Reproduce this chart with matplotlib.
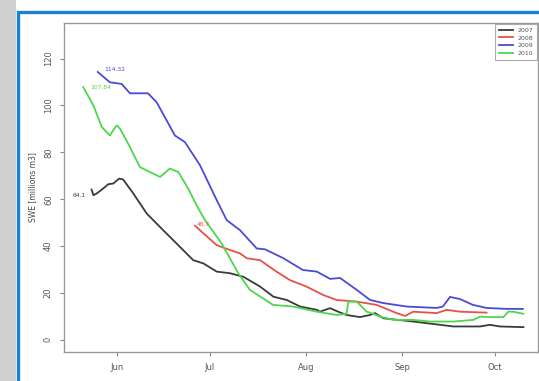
"""SWE recession curves 2007-2010, redrawn from a screenshot of an R plot."""
import matplotlib
matplotlib.use("Agg")
import matplotlib.pyplot as plt
from matplotlib.patches import Rectangle

# days counted from 1 June, values in millions m3
days_2007 = [-8.2, -7.6, -6.6, -4.9, -2.8, -1.2, 0.7, 2.0, 5.3, 9.6, 14.9, 20.3,
             24.6, 27.9, 32.2, 36.5, 40.8, 46.2, 50.5, 54.8, 59.1, 64.5, 65.5,
             68.8, 71.4, 74.1, 78.4, 81.7, 83.3, 86.0, 95.6, 104.3, 108.6,
             117.2, 120.4, 123.6, 131.2]
swe_2007 = [64.1, 61.7, 62.4, 64.1, 66.4, 66.7, 68.8, 68.4, 62.4, 53.9, 46.8, 39.7,
            34.0, 32.6, 29.1, 28.4, 26.9, 22.7, 18.4, 17.0, 14.2, 12.8, 12.0,
            13.5, 12.0, 10.6, 9.7, 10.6, 11.4, 9.2, 7.8, 6.4, 5.7,
            5.7, 6.4, 5.7, 5.4]

days_2008 = [25.2, 27.9, 32.2, 36.5, 39.7, 41.9, 46.2, 51.5, 55.8, 61.2, 66.6,
             70.9, 77.4, 83.8, 90.3, 93.0, 95.6, 103.2, 106.4, 110.7, 119.3]
swe_2008 = [48.7, 45.4, 40.4, 38.3, 36.9, 34.8, 34.0, 29.1, 25.5, 22.7, 19.1,
            17.0, 16.3, 14.9, 11.4, 10.2, 12.0, 11.4, 12.8, 12.0, 11.6]

days_2009 = [-6.2, -2.3, 1.5, 4.2, 10.0, 12.8, 18.7, 21.9, 26.8, 32.2, 35.4, 39.7,
             45.1, 47.8, 53.6, 60.0, 64.5, 68.8, 72.0, 77.4, 81.7, 85.9, 93.5,
             103.2, 105.2, 107.5, 110.7, 114.9, 119.3, 125.8, 131.0]
swe_2009 = [114.32, 109.9, 109.2, 105.2, 105.2, 101.4, 87.2, 84.4, 74.5, 59.6, 51.1,
            46.8, 39.0, 38.6, 34.9, 29.8, 29.1, 26.0, 26.4, 21.3, 17.0, 15.7, 14.2,
            13.6, 14.2, 18.3, 17.4, 14.9, 13.6, 13.2, 13.2]

days_2010 = [-10.9, -7.6, -4.9, -2.3, -0.1, 1.0, 4.2, 7.4, 13.9, 17.1, 19.8, 23.0,
             25.7, 28.4, 33.8, 39.1, 42.9, 50.4, 56.8, 64.5, 70.9, 74.1, 74.7,
             77.4, 80.6, 82.7, 84.9, 89.2, 95.6, 101.0, 108.6, 115.0, 117.2,
             120.4, 124.7, 126.3, 127.9, 131.2]
swe_2010 = [107.84, 100.0, 90.8, 87.2, 91.5, 90.1, 82.2, 73.7, 69.5, 73.1, 71.6, 64.5,
            57.4, 51.1, 41.1, 28.5, 21.3, 14.9, 14.2, 12.0, 10.6, 11.1, 16.3,
            16.3, 12.0, 11.1, 9.9, 8.5, 8.5, 7.8, 7.8, 8.5, 9.9,
            9.7, 9.7, 12.0, 12.0, 11.1]

years = ["2007", "2008", "2009", "2010"]
start_labels = ["64.1", "48.7", "114.32", "107.84"]
month_days = [0, 30, 61, 92, 122]
month_names = ["Jun", "Jul", "Aug", "Sep", "Oct"]
y_ticks = [0, 20, 40, 60, 80, 100, 120]

series = [(days_2007, swe_2007), (days_2008, swe_2008),
          (days_2009, swe_2009), (days_2010, swe_2010)]
colors = ["#3a3a3a", "#e8504a", "#4a4ad8", "#4cd84c"]
# label offsets (days, value) relative to the first point
label_offsets = [(-2.0, -2.5), (0.5, 0.5), (2.0, 1.0), (2.3, -0.2)]

W, H = 539, 381
fig = plt.figure(figsize=(W / 100, H / 100), dpi=100)
fig.patch.set_facecolor("white")

# gray textured strip and blue frame of the screenshot
fig.add_artist(Rectangle((0, 0), 16 / W, 1, transform=fig.transFigure,
                         facecolor="#cfcfcf", edgecolor="none", zorder=0))
fig.add_artist(Rectangle((17.5 / W, -0.1), 1.2, (H - 11.5) / H + 0.1,
                         transform=fig.transFigure, facecolor="none",
                         edgecolor="#1a82d2", linewidth=2.4, zorder=1))

ax = fig.add_axes([64 / W, 1 - 352 / H, 474 / W, 329 / H])
ax.set_facecolor("white")

for (d, v), c, yr in zip(series, colors, years):
    ax.plot(d, v, color=c, linewidth=1.3, label=yr, solid_joinstyle="round")

for (d, v), c, txt, (dx, dy) in zip(series, colors, start_labels, label_offsets):
    ha = "right" if dx < 0 else "left"
    ax.text(d[0] + dx, v[0] + dy, txt, color=c, fontsize=4.3, ha=ha, va="center")

ax.set_xlim(-17.1, 135.9)
ax.set_ylim(-5.2, 135.2)
ax.set_xticks(month_days)
ax.set_xticklabels(month_names)
ax.set_yticks(y_ticks)
ax.set_yticklabels([str(t) for t in y_ticks], rotation=90, va="center")
ax.set_ylabel("SWE [millions m3]", fontsize=5.5, color="#444444", labelpad=5)

ax.tick_params(direction="out", length=3, width=0.8, color="#888888",
               labelsize=6, labelcolor="#555555", pad=5)
for s in ax.spines.values():
    s.set_color("#999999")
    s.set_linewidth(1.0)

leg = ax.legend(loc="upper right", fontsize=4.5, frameon=True, fancybox=False,
                borderaxespad=0.15, handlelength=2.2, handletextpad=0.8,
                labelspacing=0.35, borderpad=0.6)
leg.get_frame().set_edgecolor("#999999")
leg.get_frame().set_linewidth(0.8)
for t in leg.get_texts():
    t.set_color("#555555")

fig.savefig("out.png", dpi=100)
